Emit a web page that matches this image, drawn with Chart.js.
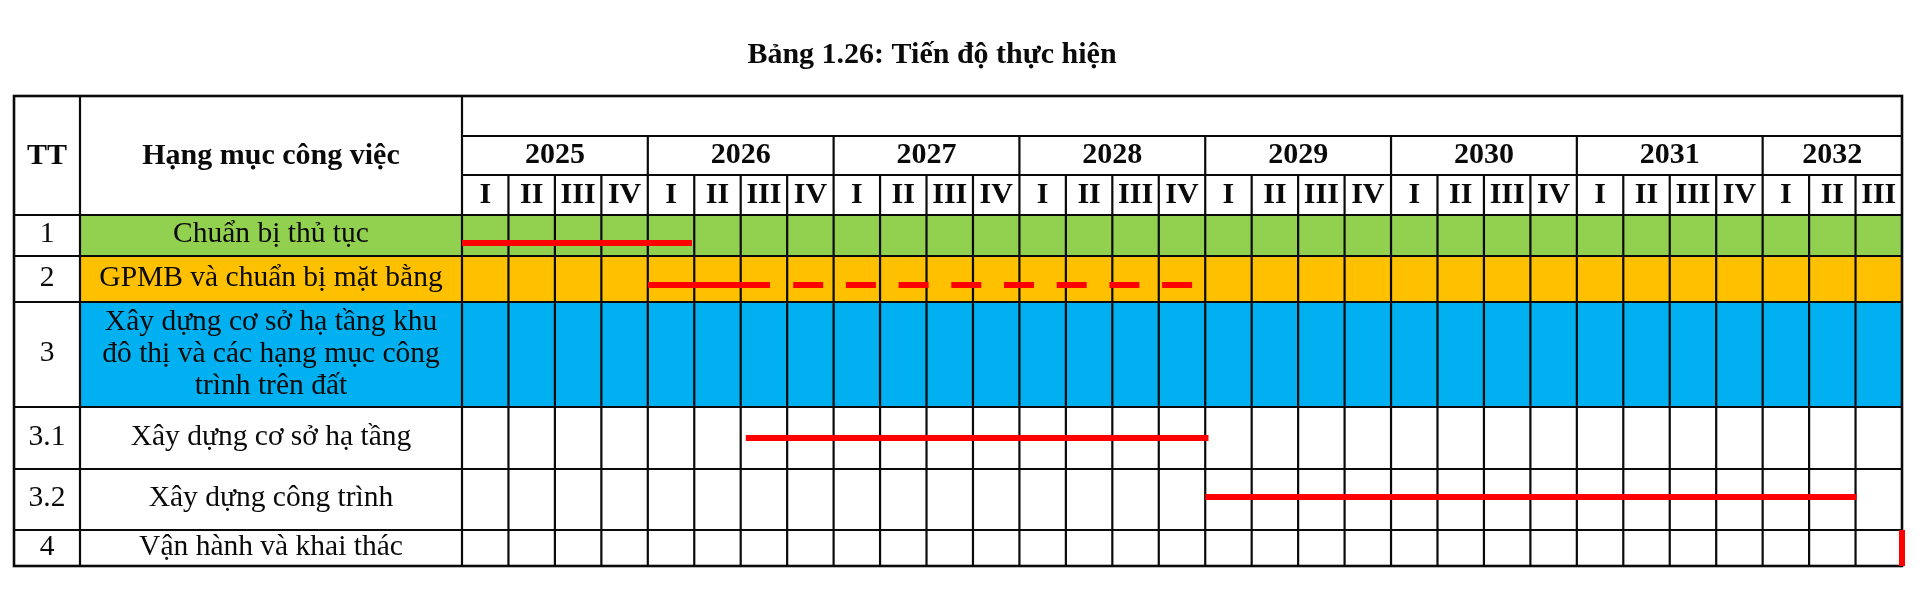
<!DOCTYPE html>
<html>
<head>
<meta charset="utf-8">
<script src="https://cdn.jsdelivr.net/npm/chart.js@4.4.1/dist/chart.umd.min.js"></script>
<style>
  html, body { margin: 0; padding: 0; background: #ffffff; }
  #wrap { width: 1920px; height: 610px; }
</style>
</head>
<body>
<div id="wrap"><canvas id="c" width="1920" height="610"></canvas></div>
<script>
// ---------------- DATA ----------------
const title = 'Bảng 1.26: Tiến độ thực hiện';
const headerTT = 'TT';
const headerTask = 'Hạng mục công việc';
const years = ['2025', '2026', '2027', '2028', '2029', '2030', '2031', '2032'];
const quartersPerYear = [4, 4, 4, 4, 4, 4, 4, 3];
const quarterLabels = ['I', 'II', 'III', 'IV'];
const taskIds = ['1', '2', '3', '3.1', '3.2', '4'];
const taskNames = [
  ['Chuẩn bị thủ tục'],
  ['GPMB và chuẩn bị mặt bằng'],
  ['Xây dựng cơ sở hạ tầng khu', 'đô thị và các hạng mục công', 'trình trên đất'],
  ['Xây dựng cơ sở hạ tầng'],
  ['Xây dựng công trình'],
  ['Vận hành và khai thác']
];
// schedule in quarter units counted from the start of 2025 Q I (null = no bar)
const solidStart = [0, 4.0, null, 6.11, 16.0, 31];
const solidEnd   = [4.95, 6.63, null, 16.07, 30.02, 31];
const dashedStart = [null, 7.13, null, null, null, null];
const dashedEnd   = [null, 15.72, null, null, null, null];

// ---------------- LAYOUT / STYLE ----------------
const L = {
  tableLeft: 14, colTTRight: 80, tableTop: 96, yearTop: 136, quarterTop: 175,
  rowHeights: [41, 46, 105, 62, 61, 36],
  lineFrac: [0.68, 0.63, 0.5, 0.5, 0.46, 0.5],
  rowFill: [ '#92D050', '#FFC000', '#00B0F0', null, null, null ],
  titleX: 932, titleY: 55.5,
  ink: '#0a0a0a',
  red: '#FF0000'
};
const totalQuarters = quartersPerYear.reduce((a, b) => a + b, 0);
const rowBounds = [0];
L.rowHeights.forEach(h => rowBounds.push(rowBounds[rowBounds.length - 1] + h));
const totalUnits = rowBounds[rowBounds.length - 1];

function txt(ctx, s, x, y, size, bold) {
  ctx.save();
  ctx.font = (bold ? 'bold ' : '') + size + 'px "Liberation Serif", "Times New Roman", serif';
  ctx.textAlign = 'center';
  ctx.textBaseline = 'middle';
  ctx.fillStyle = L.ink;
  ctx.fillText(s, x, y);
  ctx.restore();
}

// ---------------- DATASETS ----------------
const datasets = [];
taskIds.forEach((id, i) => {
  if (solidStart[i] !== null) {
    let pts;
    if (solidStart[i] === solidEnd[i]) {
      pts = [{ x: solidStart[i], y: rowBounds[i] }, { x: solidEnd[i], y: rowBounds[i + 1] }];
    } else {
      const yc = rowBounds[i] + L.rowHeights[i] * L.lineFrac[i];
      pts = [{ x: solidStart[i], y: yc }, { x: solidEnd[i], y: yc }];
    }
    datasets.push({ label: id, data: pts, borderColor: L.red, borderWidth: 6, showLine: true,
      pointRadius: 0, borderCapStyle: 'butt', clip: false });
  }
  if (dashedStart[i] !== null) {
    const yc = rowBounds[i] + L.rowHeights[i] * L.lineFrac[i];
    datasets.push({ label: id + ' (tiếp)', data: [{ x: dashedStart[i], y: yc }, { x: dashedEnd[i], y: yc }],
      borderColor: L.red, borderWidth: 6, showLine: true, pointRadius: 0, borderCapStyle: 'butt',
      borderDash: [30, 22.7], clip: false });
  }
});

// ---------------- TABLE PLUGIN ----------------
const tablePlugin = {
  id: 'ganttTable',
  beforeDatasetsDraw(chart) {
    const ctx = chart.ctx;
    const xs = chart.scales.x, ys = chart.scales.y;
    const ca = chart.chartArea;
    const X = v => xs.getPixelForValue(v);
    const Y = v => ys.getPixelForValue(v);
    const left = L.tableLeft, c1 = L.colTTRight, c2 = ca.left, right = ca.right;
    const top = L.tableTop, yT = L.yearTop, qT = L.quarterTop, hB = ca.top, bottom = ca.bottom;

    ctx.save();
    ctx.fillStyle = '#ffffff';
    ctx.fillRect(0, 0, chart.width, chart.height);

    // row fills
    taskIds.forEach((id, i) => {
      if (L.rowFill[i]) {
        ctx.fillStyle = L.rowFill[i];
        ctx.fillRect(c1, Y(rowBounds[i]), right - c1, Y(rowBounds[i + 1]) - Y(rowBounds[i]));
      }
    });

    ctx.strokeStyle = L.ink;
    ctx.lineWidth = 2.2;
    const line = (x1, y1, x2, y2) => { ctx.beginPath(); ctx.moveTo(x1, y1); ctx.lineTo(x2, y2); ctx.stroke(); };

    // horizontal lines
    line(c2, yT, right, yT);
    line(c2, qT, right, qT);
    rowBounds.forEach((b, i) => { if (i > 0 && i < rowBounds.length - 1) line(left, Y(b), right, Y(b)); });
    line(left, hB, right, hB);
    // vertical lines
    line(c1, top, c1, bottom);
    line(c2, top, c2, bottom);
    for (let q = 1; q < totalQuarters; q++) line(X(q), qT, X(q), bottom);
    let acc = 0;
    quartersPerYear.forEach((n, i) => { acc += n; if (i < quartersPerYear.length - 1) line(X(acc), yT, X(acc), qT); });
    // outer border
    ctx.lineWidth = 2.6;
    ctx.strokeRect(left, top, right - left, bottom - top);

    // title
    txt(ctx, title, L.titleX, L.titleY, 30, true);
    // headers
    txt(ctx, headerTT, (left + c1) / 2, (top + hB) / 2 + 1, 30, true);
    txt(ctx, headerTask, (c1 + c2) / 2, (top + hB) / 2 + 1, 30, true);
    acc = 0;
    quartersPerYear.forEach((n, i) => {
      txt(ctx, years[i], (X(acc) + X(acc + n)) / 2, (yT + qT) / 2, 30, true);
      for (let k = 0; k < n; k++) {
        txt(ctx, quarterLabels[k], (X(acc + k) + X(acc + k + 1)) / 2, (qT + hB) / 2, 30, true);
      }
      acc += n;
    });
    // rows
    taskIds.forEach((id, i) => {
      const yc = (Y(rowBounds[i]) + Y(rowBounds[i + 1])) / 2 - 1;
      txt(ctx, id, (left + c1) / 2, yc, 29.5, false);
      const lines = taskNames[i];
      const lh = 32;
      const yText = lines.length > 1 ? yc + 1 : yc;
      lines.forEach((s, k) => {
        txt(ctx, s, (c1 + c2) / 2, yText + (k - (lines.length - 1) / 2) * lh, 29.5, false);
      });
    });
    ctx.restore();
  }
};

new Chart(document.getElementById('c'), {
  type: 'scatter',
  data: { datasets },
  options: {
    responsive: false,
    devicePixelRatio: 1,
    animation: false,
    layout: { padding: { left: 462, right: 18, top: 215, bottom: 44 } },
    plugins: { legend: { display: false }, tooltip: { enabled: false }, title: { display: false } },
    scales: {
      x: { type: 'linear', min: 0, max: totalQuarters, display: false },
      y: { type: 'linear', min: 0, max: totalUnits, reverse: true, display: false }
    },
    elements: { line: { tension: 0 } }
  },
  plugins: [tablePlugin]
});
</script>
</body>
</html>
